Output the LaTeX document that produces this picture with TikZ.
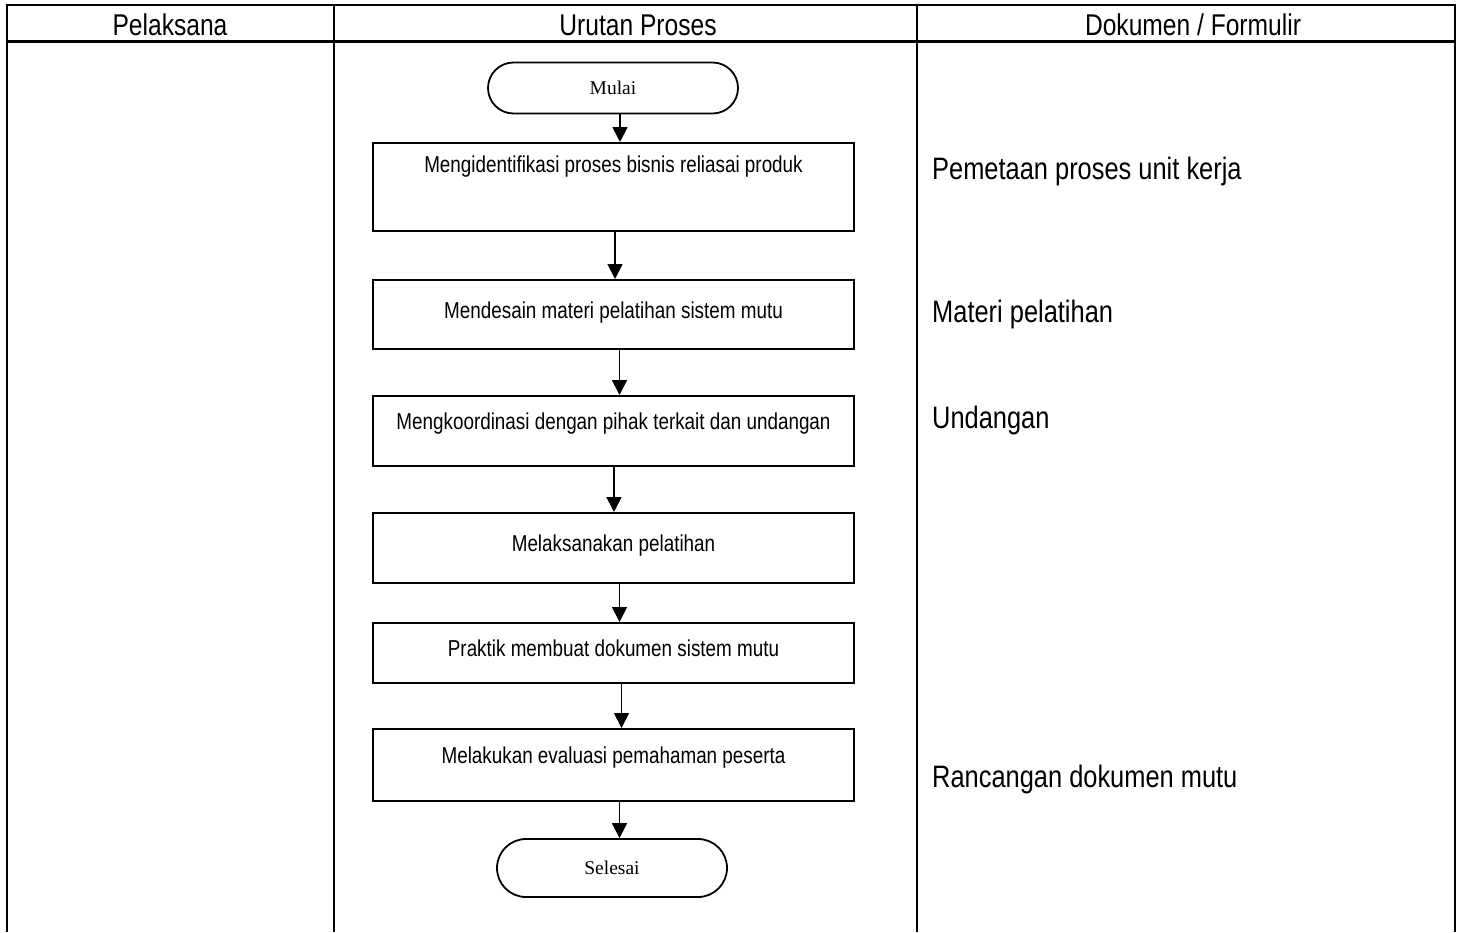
\documentclass[tikz,border=0pt]{standalone}
\usepackage{fontspec}
\setmainfont{Liberation Sans}[FakeStretch=0.82]
\newfontfamily\termfont{Liberation Serif}
\usetikzlibrary{positioning}
\usetikzlibrary{arrows.meta}
\usetikzlibrary{shapes.misc}

\begin{document}
\begin{tikzpicture}[x=1pt,y=-1pt,
  gridline/.style={line width=2.6pt,black},
  headtext/.style={anchor=base,inner sep=0pt,font=\fontsize{30}{34}\selectfont},
  doctext/.style={anchor=base west,inner sep=0pt,font=\fontsize{31}{35}\selectfont},
  procbox/.style={draw,line width=1.8pt,anchor=north,minimum width=481pt,inner sep=0pt,
    font=\fontsize{23}{26}\selectfont},
  termbox/.style={draw,rounded rectangle,line width=1.8pt,inner sep=0pt,
    font=\termfont\fontsize{19.5}{22}\selectfont},
  flow/.style={line width=1.8pt,-{Triangle[length=15pt,width=15pt]}}]
\useasboundingbox (0,0) rectangle (1462,932);

% The table: header row and three columns, open at the bottom.
\draw[gridline] (7,932) -- (7,5) -- (1455,5) -- (1455,932);
\draw[gridline] (7,41.5) -- (1455,41.5);
\draw[gridline] (334,5) -- (334,932);
\draw[gridline] (917,5) -- (917,932);
\node[headtext] (hpel) at (170,35) {Pelaksana};
\node[headtext] (hurut) at (638,35) {Urutan Proses};
\node[headtext] (hdok) at (1193,35) {Dokumen / Formulir};

% The process steps.
\node[termbox,minimum width=250pt,minimum height=51pt] (mulai) at (613,88) {Mulai};
\node[procbox,text height=30pt,text depth=58pt] (idn) at (613.5,142)
  {Mengidentifikasi proses bisnis reliasai produk};
\node[procbox,text height=39pt,text depth=30pt] (desain) at (613.5,279)
  {Mendesain materi pelatihan sistem mutu};
\node[procbox,text height=34pt,text depth=36pt] (koord) at (613.5,395)
  {Mengkoordinasi dengan pihak terkait dan undangan};
\node[procbox,text height=39pt,text depth=31pt] (laks) at (613.5,512)
  {Melaksanakan pelatihan};
\node[procbox,text height=34pt,text depth=26pt] (praktik) at (613.5,622)
  {Praktik membuat dokumen sistem mutu};
\node[procbox,text height=35pt,text depth=37pt] (eval) at (613.5,728)
  {Melakukan evaluasi pemahaman peserta};
\node[termbox,minimum width=230pt,minimum height=58pt] (selesai) at (612,868) {Selesai};

\draw[flow] ([xshift=7pt]mulai.south) -- ([xshift=7pt]mulai.south |- idn.north);
\draw[flow] ([xshift=1.5pt]idn.south) -- ([xshift=1.5pt]idn.south |- desain.north);
\draw[flow] ([xshift=6pt]desain.south) -- ([xshift=6pt]desain.south |- koord.north);
\draw[flow] ([xshift=0.5pt]koord.south) -- ([xshift=0.5pt]koord.south |- laks.north);
\draw[flow] ([xshift=6pt]laks.south) -- ([xshift=6pt]laks.south |- praktik.north);
\draw[flow] ([xshift=8pt]praktik.south) -- ([xshift=8pt]praktik.south |- eval.north);
\draw[flow] ([xshift=6pt]eval.south) -- ([xshift=6pt]eval.south |- selesai.north);

% Documents produced along the way.
\node[doctext] (dpeta) at (932,179) {Pemetaan proses unit kerja};
\node[doctext] (dmateri) at (932,322) {Materi pelatihan};
\node[doctext] (dundang) at (932,428) {Undangan};
\node[doctext] (drancang) at (932,787) {Rancangan dokumen mutu};
\end{tikzpicture}
\end{document}
